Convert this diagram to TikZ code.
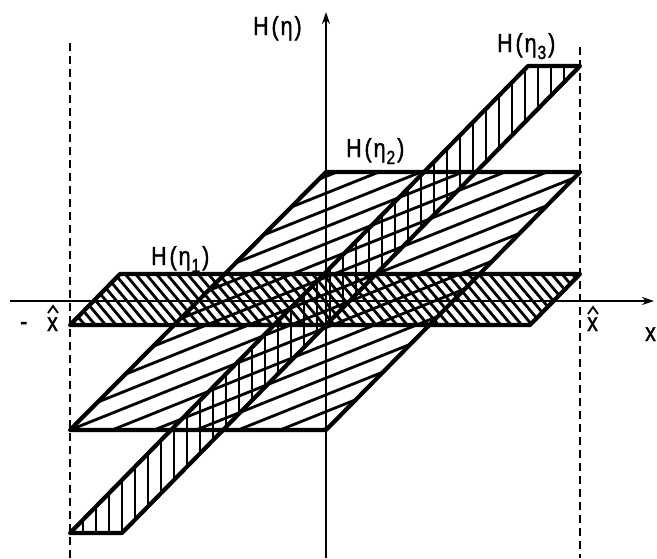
\documentclass[tikz,border=0pt]{standalone}
\usepackage{fontspec}
\setmainfont{Liberation Sans}
\newfontfamily\lblfont[FakeStretch=0.82,FakeBold=1.5]{Liberation Sans}
\usetikzlibrary{arrows.meta}
\newcommand\mysub[1]{\raisebox{-7pt}{\fontsize{19}{19}\selectfont #1}}
\begin{document}
\begin{tikzpicture}[x=1pt,y=-1pt,
  outline/.style={line width=4.2pt, line join=round},
  hatchline/.style={line width=2.8pt},
  axisline/.style={line width=2pt, -{Stealth[length=12pt,width=8pt]}},
  boundline/.style={line width=1.9pt, dash pattern=on 8pt off 5pt},
  hatline/.style={line width=1.8pt},
  lbl/.style={font=\lblfont\fontsize{26}{26}\selectfont, inner sep=0pt, anchor=base west}]
\useasboundingbox (0,0) rectangle (657,558);
% parallelogram corners
\coordinate (a1) at (70,325);  \coordinate (b1) at (530,325);
\coordinate (c1) at (580,274); \coordinate (d1) at (120,274);
\coordinate (a2) at (70,430);  \coordinate (b2) at (326,430);
\coordinate (c2) at (580,172); \coordinate (d2) at (326,172);
\coordinate (a3) at (70,533);  \coordinate (b3) at (122,533);
\coordinate (c3) at (580,66);  \coordinate (d3) at (528,66);
% hatching H(eta_1)
\begin{scope}
  \clip (a1) -- (b1) -- (c1) -- (d1) -- cycle;
  \foreach \t in {31.4,41.8,...,590}
    \draw[hatchline] (\t-20,250) -- ++(90,107);
\end{scope}
% hatching H(eta_2)
\begin{scope}
  \clip (a2) -- (b2) -- (c2) -- (d2) -- cycle;
  \foreach \s in {290,306.8,...,590}
    \draw[hatchline] (60,{\s-24}) -- (590,{\s-236});
\end{scope}
% hatching H(eta_3)
\begin{scope}
  \clip (a3) -- (b3) -- (c3) -- (d3) -- cycle;
  \foreach \x in {83,96,...,590}
    \draw[hatchline] (\x,60) -- (\x,540);
\end{scope}
% outlines
\draw[outline] (a1) -- (b1) -- (c1) -- (d1) -- cycle;
\draw[outline] (a2) -- (b2) -- (c2) -- (d2) -- cycle;
\draw[outline] (a3) -- (b3) -- (c3) -- (d3) -- cycle;
% dashed bounds
\coordinate (lt) at (70,43);  \coordinate (lb) at (70,558);
\coordinate (rt) at (580,47); \coordinate (rb) at (580,558);
\draw[boundline] (lt) -- (lb);
\draw[boundline] (rt) -- (rb);
% axes
\coordinate (xs) at (10,301); \coordinate (xe) at (654,301);
\coordinate (ys) at (326,558); \coordinate (ye) at (326,12);
\draw[axisline] (xs) -- (xe);
\draw[axisline] (ys) -- (ye);
% labels
\node[lbl] (lh)  at (253,35)  {H\kern3pt(\kern2ptη\kern2pt)};
\node[lbl] (lh1) at (151,265) {H\kern3pt(\kern2ptη\kern1pt\mysub{1}\kern2pt)};
\node[lbl] (lh2) at (346,157) {H\kern3pt(\kern2ptη\kern1pt\mysub{2}\kern2pt)};
\node[lbl] (lh3) at (497,52)  {H\kern3pt(\kern2ptη\kern1pt\mysub{3}\kern2pt)};
\node[lbl] (lxr) at (587,331) {x};
\node[lbl] (lxl) at (47,331)  {x};
\node[lbl] (lm)  at (20,330)  {-};
\node[lbl] (lx)  at (645,341) {x};
\coordinate (hr1) at (588,314); \coordinate (hr2) at (593,307); \coordinate (hr3) at (598,314);
\coordinate (hl1) at (48,313);  \coordinate (hl2) at (53,306);  \coordinate (hl3) at (58,313);
\draw[hatline] (hr1) -- (hr2) -- (hr3);
\draw[hatline] (hl1) -- (hl2) -- (hl3);
\end{tikzpicture}
\end{document}
